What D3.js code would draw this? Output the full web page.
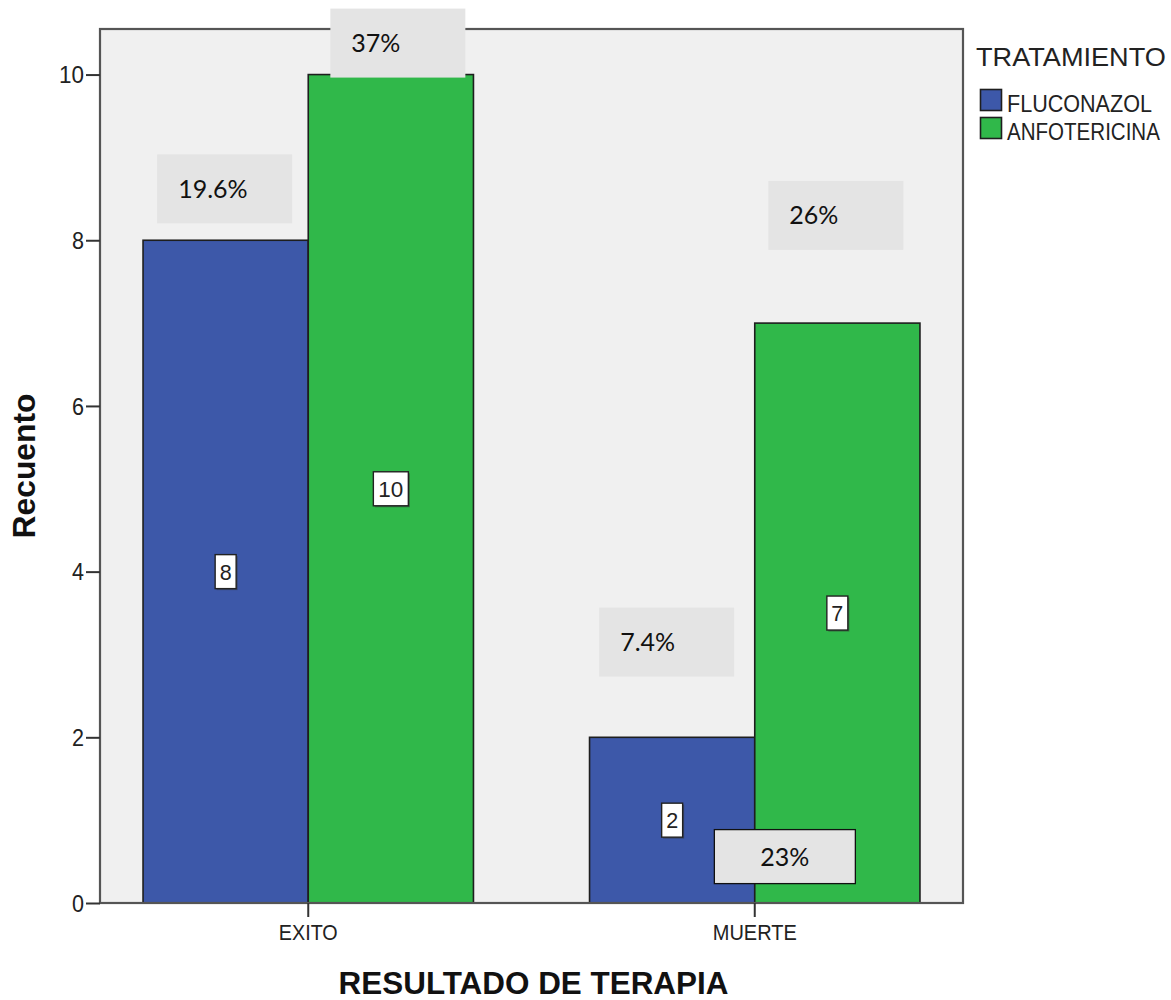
<!DOCTYPE html>
<html>
<head>
<meta charset="utf-8">
<script src="https://cdn.jsdelivr.net/npm/d3@7"></script>
<style>
  html, body { margin: 0; padding: 0; background: #ffffff; }
  svg { display: block; }
</style>
</head>
<body>
<svg id="chart" width="1171" height="1000"></svg>
<script>
// Outcome categories and treatment groups
const categories = ["EXITO", "MUERTE"];
const series = ["FLUCONAZOL", "ANFOTERICINA"];
// Patient counts per outcome, one array per treatment
const fluconazol = [8, 2];
const anfotericina = [10, 7];
// Percentage call-outs and the bar each one belongs to
const pctLabels = ["19.6%", "37%", "7.4%", "26%", "23%"];
const pctCategory = ["EXITO", "EXITO", "MUERTE", "MUERTE", "MUERTE"];
const pctSeries = ["FLUCONAZOL", "ANFOTERICINA", "FLUCONAZOL", "ANFOTERICINA", "ANFOTERICINA"];
const yTicks = [0, 2, 4, 6, 8, 10];
const legendTitle = "TRATAMIENTO";
const xTitle = "RESULTADO DE TERAPIA";
const yTitle = "Recuento";

const colors = { FLUCONAZOL: "#3d58a9", ANFOTERICINA: "#30b84a" };
const FONT = "'Liberation Sans', Arial, sans-serif";

// Squeeze a text horizontally to a given width (narrow SPSS-style lettering).
// Anchor position moves into a transform; an optional rotation is kept.
function condense(sel, target, rotate) {
  sel.each(function (d) {
    const w = typeof target === "function" ? target(d) : target;
    const n = this.getComputedTextLength();
    const k = n > 0 ? w / n : 1;
    const x0 = +this.getAttribute("x") || 0;
    const y0 = +this.getAttribute("y") || 0;
    d3.select(this).attr("x", 0).attr("y", 0)
      .attr("transform", `translate(${x0},${y0})${rotate ? ` rotate(${rotate})` : ""} scale(${k},1)`);
  });
}

const rows = [];
categories.forEach((c, i) => {
  rows.push({ cat: c, ser: "FLUCONAZOL", value: fluconazol[i] });
  rows.push({ cat: c, ser: "ANFOTERICINA", value: anfotericina[i] });
});

const svg = d3.select("#chart");
const plot = { left: 100, right: 963, top: 29, bottom: 903 };

const x = d3.scaleBand().domain(categories).range([plot.left, plot.right])
  .paddingInner(0.26).paddingOuter(0.0964);
const xs = d3.scaleBand().domain(series).range([0, x.bandwidth()]);
const y = d3.scaleLinear().domain([0, 10.55]).range([plot.bottom, plot.top]);
const barCenter = (cat, ser) => x(cat) + xs(ser) + xs.bandwidth() / 2;

// plot background
svg.append("rect")
  .attr("x", plot.left).attr("y", plot.top)
  .attr("width", plot.right - plot.left).attr("height", plot.bottom - plot.top)
  .attr("fill", "#f0f0f0");

// bars
svg.append("g").selectAll("rect").data(rows).join("rect")
  .attr("x", d => x(d.cat) + xs(d.ser))
  .attr("y", d => y(d.value))
  .attr("width", xs.bandwidth())
  .attr("height", d => y(0) - y(d.value))
  .attr("fill", d => colors[d.ser])
  .attr("stroke", "#1e1e1e")
  .attr("stroke-width", 1.6);

// frame
svg.append("rect")
  .attr("x", plot.left).attr("y", plot.top)
  .attr("width", plot.right - plot.left).attr("height", plot.bottom - plot.top)
  .attr("fill", "none").attr("stroke", "#555").attr("stroke-width", 2.2);

// y axis
const yAxis = d3.axisLeft(y).tickValues(yTicks).tickSize(14).tickPadding(3).tickFormat(d3.format("d"));
const gy = svg.append("g").attr("transform", `translate(${plot.left},0)`).call(yAxis);
gy.select(".domain").remove();
gy.selectAll(".tick line").attr("stroke", "#333").attr("stroke-width", 2);
gy.selectAll(".tick text")
  .attr("font-family", FONT)
  .attr("font-size", 23).attr("fill", "#222")
  .attr("x", -16).attr("dy", "0.36em")
  .call(condense, d => d >= 10 ? 25 : 12);

// x axis
const xAxis = d3.axisBottom(x).tickSize(14).tickPadding(0);
const gx = svg.append("g").attr("transform", `translate(0,${plot.bottom})`).call(xAxis);
gx.select(".domain").remove();
gx.selectAll(".tick line").attr("stroke", "#333").attr("stroke-width", 2);
gx.selectAll(".tick text")
  .attr("font-family", FONT)
  .attr("font-size", 22).attr("fill", "#222")
  .attr("y", 37).attr("dy", 0)
  .call(condense, d => d === "EXITO" ? 59 : 84);

// axis titles
svg.append("text")
  .attr("x", (plot.left + plot.right) / 2 + 2).attr("y", 994)
  .attr("text-anchor", "middle")
  .attr("font-family", FONT).attr("font-weight", "bold")
  .attr("font-size", 31).attr("fill", "#111")
  .text(xTitle)
  .call(condense, 390);
svg.append("text")
  .attr("x", 35).attr("y", 466)
  .attr("text-anchor", "middle")
  .attr("font-family", FONT).attr("font-weight", "bold")
  .attr("font-size", 31).attr("fill", "#111")
  .text(yTitle)
  .call(condense, 145, -90);

// legend
const lg = svg.append("g").attr("transform", "translate(976,0)");
lg.append("text").attr("x", 0).attr("y", 66)
  .attr("font-family", FONT).attr("font-size", 25).attr("fill", "#222")
  .text(legendTitle)
  .call(condense, 190);
const li = lg.selectAll("g.item").data(series).join("g").attr("class", "item")
  .attr("transform", (d, i) => `translate(4,${89 + i * 28})`);
li.append("rect").attr("x", 0.5).attr("y", 0.5).attr("width", 21).attr("height", 21)
  .attr("fill", d => colors[d]).attr("stroke", "#1e1e1e").attr("stroke-width", 1.6);
li.append("text").attr("x", 27).attr("y", 23)
  .attr("font-family", FONT).attr("font-size", 23).attr("fill", "#222")
  .text(d => d)
  .call(condense, d => d === "FLUCONAZOL" ? 145 : 153);

// value labels inside bars
const boxW = v => v >= 10 ? 35 : 21;
const vl = svg.append("g").selectAll("g").data(rows).join("g")
  .attr("transform", d => `translate(${barCenter(d.cat, d.ser)},${y(d.value / 2)})`);
vl.append("rect")
  .attr("x", d => -boxW(d.value) / 2 + 1.5).attr("y", -17 + 1.5)
  .attr("width", d => boxW(d.value)).attr("height", 34)
  .attr("fill", "#333").attr("opacity", 0.5);
vl.append("rect")
  .attr("x", d => -boxW(d.value) / 2).attr("y", -17)
  .attr("width", d => boxW(d.value)).attr("height", 34)
  .attr("fill", "#fff").attr("stroke", "#222").attr("stroke-width", 1.4);
vl.append("text")
  .attr("text-anchor", "middle").attr("y", 8)
  .attr("font-family", FONT)
  .attr("font-size", 22).attr("fill", "#222")
  .text(d => d.value)
  .call(condense, d => d.value >= 10 ? 25 : 12);

// percentage call-outs: box centre in value units, horizontal nudge from bar centre
const calloutLayout = [
  { yc: 8.62,  dx: -1,    w: 135, h: 69, border: false, centered: false },
  { yc: 10.38, dx: 7,     w: 135, h: 69, border: false, centered: false },
  { yc: 3.15,  dx: -5.5,  w: 135, h: 69, border: false, centered: false },
  { yc: 8.30,  dx: -1.5,  w: 135, h: 69, border: false, centered: false },
  { yc: 0.56,  dx: -52.5, w: 141, h: 54, border: true,  centered: true }
];
const pctRows = pctLabels.map((t, i) => Object.assign(
  { text: t, cat: pctCategory[i], ser: pctSeries[i] }, calloutLayout[i]));

const pg = svg.append("g").selectAll("g").data(pctRows).join("g")
  .attr("transform", d => `translate(${barCenter(d.cat, d.ser) + d.dx},${y(d.yc)})`);
pg.append("rect")
  .attr("x", d => -d.w / 2).attr("y", d => -d.h / 2)
  .attr("width", d => d.w).attr("height", d => d.h)
  .attr("fill", "#e4e4e4")
  .attr("stroke", d => d.border ? "#111" : "none")
  .attr("stroke-width", 1.3);
pg.append("text")
  .attr("x", d => d.centered ? 0 : -d.w / 2 + 21)
  .attr("y", 9)
  .attr("text-anchor", d => d.centered ? "middle" : "start")
  .attr("font-family", "Lato, 'Open Sans', sans-serif")
  .attr("font-size", 25).attr("fill", "#111")
  .text(d => d.text);
</script>
</body>
</html>
